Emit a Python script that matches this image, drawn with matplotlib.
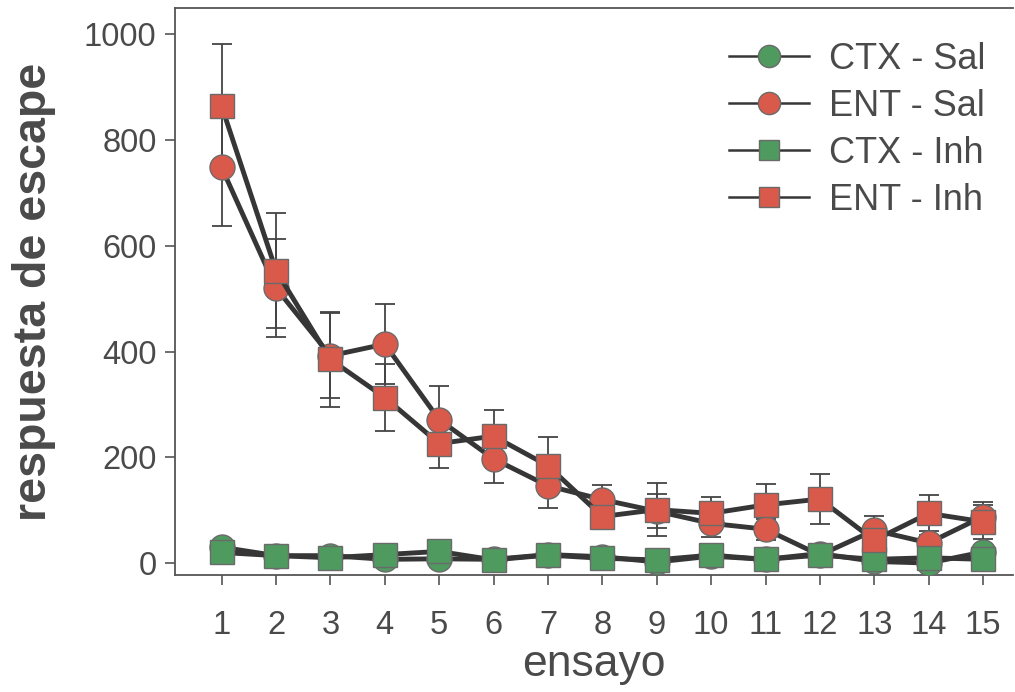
import matplotlib
matplotlib.use("Agg")
import matplotlib.pyplot as plt
import numpy as np

trials = list(range(1, 16))
ctx_sal = [30, 14, 14, 7, 8, 7, 16, 12, 2, 13, 7, 18, 3, 0, 21]
ent_sal = [748, 520, 392, 414, 271, 197, 146, 120, 98, 75, 64, 15, 62, 38, 88]
ent_sal_err = [110, 92, 80, 76, 63, 45, 42, 28, 32, 25, 20, 8, 27, 15, 28]
ctx_inh = [20, 14, 10, 16, 22, 6, 15, 9, 6, 15, 7, 15, 7, 10, 7]
ent_inh = [864, 553, 385, 313, 226, 240, 184, 88, 101, 94, 110, 121, 43, 94, 78]
ent_inh_err = [118, 108, 90, 64, 47, 49, 54, 20, 50, 31, 39, 47, 20, 34, 32]
labels = ["CTX - Sal", "ENT - Sal", "CTX - Inh", "ENT - Inh"]
yticks = [0, 200, 400, 600, 800, 1000]

plt.rcParams['font.family'] = ['Liberation Sans', 'DejaVu Sans']

RED = '#d95a4a'
GREEN = '#4f9a5f'
LINE = '#363636'
TXT = '#4a4a4a'

fig = plt.figure(figsize=(10.15, 6.92), dpi=100)
ax = fig.add_axes([0.172, 0.169, 0.826, 0.819])

series = [
    (ctx_sal, None, GREEN, 'o', labels[0]),
    (ent_sal, ent_sal_err, RED, 'o', labels[1]),
    (ctx_inh, None, GREEN, 's', labels[2]),
    (ent_inh, ent_inh_err, RED, 's', labels[3]),
]
handles = []
for i, (vals, err, col, mk, lab) in enumerate(series):
    if err is not None:
        ax.errorbar(trials, vals, yerr=err, fmt='none', ecolor='#444444',
                    elinewidth=1.3, capsize=7, capthick=1.3, zorder=1.5)
    ms = 18 if mk == 'o' else 17
    ax.plot(trials, vals, color=LINE, lw=3.5, zorder=3 + i)
    ax.plot(trials, vals, linestyle='none', marker=mk, ms=ms, markerfacecolor=col,
            markeredgecolor='#6a6a6a', markeredgewidth=1.0, zorder=3.5 + i)
    h, = ax.plot([], [], color=LINE, lw=1.8, marker=mk, ms=16 if mk == 'o' else 14,
                 markerfacecolor=col, markeredgecolor='#6a6a6a', label=lab)
    handles.append(h)

ax.set_xlim(0.135, 15.55)
ax.set_ylim(-22.7, 1049)
ax.set_xticks(trials)
ax.set_yticks(yticks)
ax.tick_params(axis='both', labelsize=23.5, colors='#555555', labelcolor=TXT,
               length=7, width=1.2, direction='out', pad=6)
ax.tick_params(axis='x', pad=18)
for s in ['left', 'bottom', 'top']:
    ax.spines[s].set_color('#555555')
    ax.spines[s].set_linewidth(1.3)
ax.spines['right'].set_visible(False)

ax.set_xlabel('ensayo', fontsize=32, color=TXT, labelpad=2)
ax.set_ylabel('respuesta de escape', fontsize=33.5, fontweight='bold', color=TXT, labelpad=20)

leg = ax.legend(handles=handles, loc='upper right', bbox_to_anchor=(0.997, 0.985),
                frameon=False, fontsize=26, handlelength=2.2, handletextpad=0.55,
                labelspacing=0.33, labelcolor=TXT, borderpad=0.2)

fig.savefig('out.png', dpi=100)
